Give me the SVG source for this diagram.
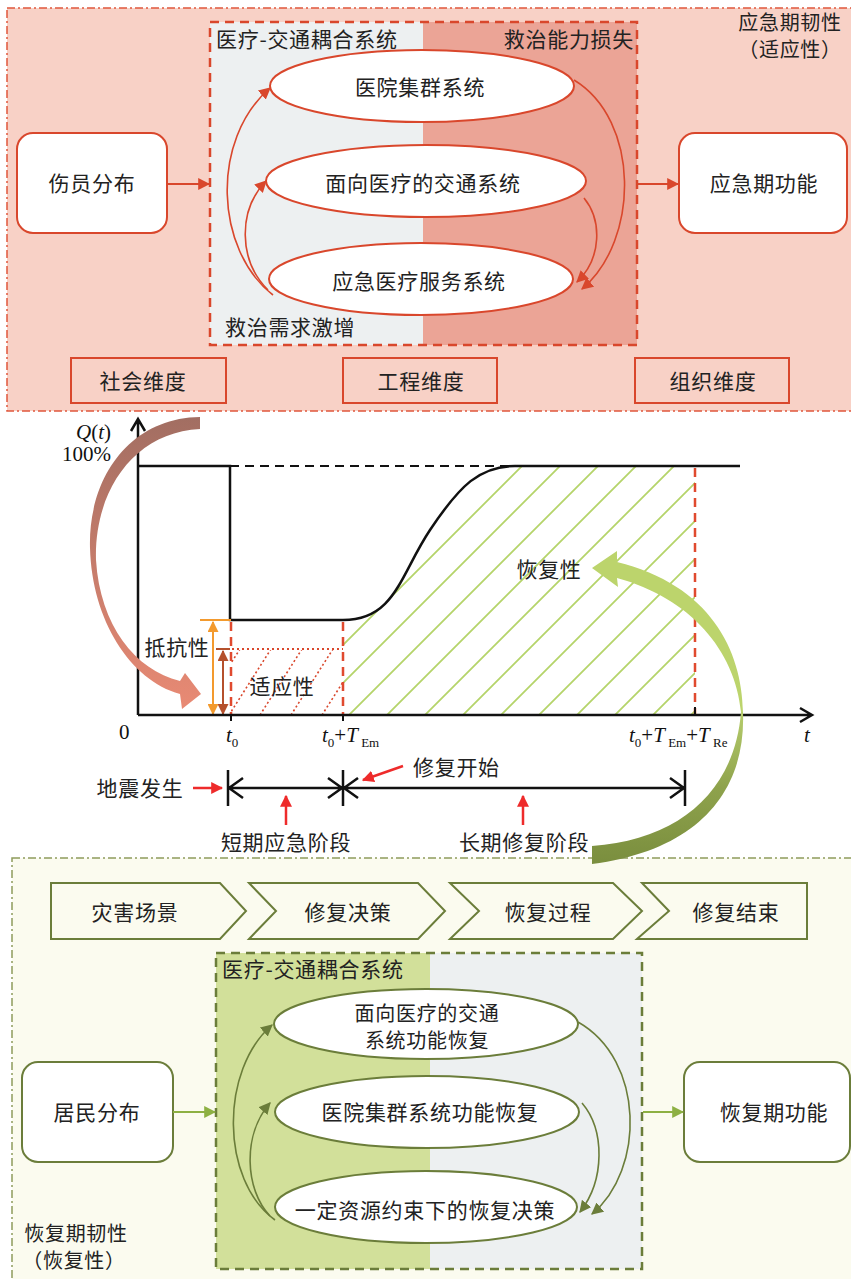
<svg xmlns="http://www.w3.org/2000/svg" width="851" height="1279" viewBox="0 0 851 1279">
<style>
.t{font-family:"Noto Sans CJK SC","Noto Sans",sans-serif;font-size:21px;fill:#222;letter-spacing:0.7px}
.s20{font-size:20px}
.m{text-anchor:middle}
.e{text-anchor:end}
.rs{stroke:#d9472c;stroke-width:2}
.gs{stroke:#6b7d3a;stroke-width:2}
.wf{fill:#fff}
.nf{fill:none}
.math{font-family:"Liberation Serif",serif;font-size:21px;fill:#111}
.it{font-style:italic}
.sub{font-size:13px;font-style:normal}
</style>
<defs>
<marker id="arR" viewBox="0 0 10 10" refX="9" refY="5" markerWidth="12" markerHeight="12" orient="auto" markerUnits="userSpaceOnUse"><path d="M0,0 L10,5 L0,10 Z" fill="#d9472c"/></marker>
<marker id="ag" viewBox="0 0 10 10" refX="9" refY="5" markerWidth="12" markerHeight="12" orient="auto" markerUnits="userSpaceOnUse"><path d="M0,0 L10,5 L0,10 Z" fill="#6b7d3a"/></marker>
<marker id="agl" viewBox="0 0 10 10" refX="9" refY="5" markerWidth="12" markerHeight="12" orient="auto" markerUnits="userSpaceOnUse"><path d="M0,0 L10,5 L0,10 Z" fill="#8db043"/></marker>
<marker id="ared" viewBox="0 0 10 10" refX="9" refY="5" markerWidth="12" markerHeight="12" orient="auto" markerUnits="userSpaceOnUse"><path d="M0,0 L10,5 L0,10 Z" fill="#ee2b2b"/></marker>
<marker id="aor" viewBox="0 0 10 10" refX="9" refY="5" markerWidth="11" markerHeight="11" orient="auto-start-reverse" markerUnits="userSpaceOnUse"><path d="M0,0 L10,5 L0,10 Z" fill="#f39a2e"/></marker>
<marker id="abr" viewBox="0 0 10 10" refX="9" refY="5" markerWidth="11" markerHeight="11" orient="auto-start-reverse" markerUnits="userSpaceOnUse"><path d="M0,0 L10,5 L0,10 Z" fill="#b5502c"/></marker>
<linearGradient id="gBrown" gradientUnits="userSpaceOnUse" x1="0" y1="417" x2="0" y2="710">
<stop offset="0" stop-color="#a26e62"/><stop offset="1" stop-color="#e98a74"/></linearGradient>
<linearGradient id="gOlive" gradientUnits="userSpaceOnUse" x1="0" y1="712" x2="0" y2="864">
<stop offset="0" stop-color="#b6cd6c"/><stop offset="0.5" stop-color="#8ea24c"/><stop offset="1" stop-color="#7a8e3e"/></linearGradient>
<clipPath id="clipG"><path d="M343,715 L343,620 C395,620 400,575 430,530 S480,466 515,466 L695,466 L695,715 Z"/></clipPath>
<clipPath id="clipO"><rect x="231" y="650" width="112" height="65"/></clipPath>
<pattern id="hatchG" patternUnits="userSpaceOnUse" width="38" height="38">
<path d="M0,38 L38,0 M-5,5 L5,-5 M33,43 L43,33" stroke="#b5d46a" stroke-width="1.8"/></pattern>
</defs>

<!-- top panel -->
<g id="panel-emergency">
<rect x="7" y="8" width="850" height="403" fill="#f8d1c6" stroke="#e0573c" stroke-width="1.5" stroke-dasharray="8,3,2,3"/>
<rect x="210" y="22" width="213" height="323" fill="#edf0f1"/>
<rect x="423" y="22" width="214" height="323" fill="#eba496"/>
<rect x="210" y="22" width="427" height="323" fill="none" stroke="#d9472c" stroke-width="2.5" stroke-dasharray="9,6"/>
<text class="t" x="216" y="47">医疗-交通耦合系统</text>
<text class="t e" x="634" y="47">救治能力损失</text>
<text class="t" x="225" y="335">救治需求激增</text>
<text class="t s20 m" x="790" y="30">应急期韧性</text>
<text class="t s20 m" x="790" y="57">（适应性）</text>
</g>

<g id="node-hospital"><ellipse cx="422" cy="86" rx="152" ry="36" class="rs wf"/><text class="t m" x="420" y="95">医院集群系统</text></g>
<g id="node-traffic"><ellipse cx="426" cy="181" rx="160" ry="36" class="rs wf"/><text class="t m" x="423" y="191">面向医疗的交通系统</text></g>
<g id="node-ems"><ellipse cx="421" cy="279" rx="152" ry="36" class="rs wf"/><text class="t m" x="419" y="289">应急医疗服务系统</text></g>
<g id="node-casualty"><rect x="17" y="133" width="150" height="100" rx="16" class="rs wf"/><text class="t m" x="92" y="191">伤员分布</text></g>
<g id="node-emfunc"><rect x="679" y="133" width="168" height="100" rx="16" class="rs wf"/><text class="t m" x="764" y="191">应急期功能</text></g>
<g id="node-social"><rect x="71" y="358" width="155" height="45" class="rs nf"/><text class="t m" x="143" y="389">社会维度</text></g>
<g id="node-eng"><rect x="343" y="358" width="154" height="45" class="rs nf"/><text class="t m" x="421" y="389">工程维度</text></g>
<g id="node-org"><rect x="635" y="358" width="154" height="45" class="rs nf"/><text class="t m" x="713" y="389">组织维度</text></g>

<!-- bottom panel -->
<g id="panel-recovery">
<rect x="12" y="858" width="850" height="440" fill="#fbfbef" stroke="#8f9c5c" stroke-width="1.5" stroke-dasharray="8,3,2,3"/>
<rect x="216" y="953" width="214" height="316" fill="#d2e09a"/>
<rect x="430" y="953" width="212" height="316" fill="#edf0f1"/>
<rect x="216" y="953" width="426" height="316" fill="none" stroke="#6b7d3a" stroke-width="2.5" stroke-dasharray="9,6"/>
<text class="t" x="222" y="977">医疗-交通耦合系统</text>
<text class="t s20 m" x="76" y="1241">恢复期韧性</text>
<text class="t s20 m" x="74" y="1268">（恢复性）</text>
</g>
<g id="step-1"><path d="M51,883 L220,883 L246,911 L220,939 L51,939 Z" fill="#fbfbef" class="gs"/><text class="t m" x="135" y="920">灾害场景</text></g>
<g id="step-2"><path d="M249,883 L418,883 L445,911 L418,939 L249,939 L276,911 Z" fill="#fbfbef" class="gs"/><text class="t m" x="348" y="920">修复决策</text></g>
<g id="step-3"><path d="M450,883 L613,883 L642,911 L613,939 L450,939 L479,911 Z" fill="#fbfbef" class="gs"/><text class="t m" x="548" y="920">恢复过程</text></g>
<g id="step-4"><path d="M642,883 L807,883 L807,939 L637,939 L669,911 Z" fill="#fbfbef" class="gs"/><text class="t m" x="736" y="920">修复结束</text></g>

<g id="node-r-traffic"><ellipse cx="426" cy="1024" rx="152" ry="35" class="gs wf"/><text class="t s20 m" x="427" y="1021">面向医疗的交通</text><text class="t s20 m" x="427" y="1048">系统功能恢复</text></g>
<g id="node-r-hospital"><ellipse cx="427" cy="1112" rx="152" ry="36" class="gs wf"/><text class="t m" x="430" y="1120">医院集群系统功能恢复</text></g>
<g id="node-r-decision"><ellipse cx="426" cy="1207" rx="151" ry="36" class="gs wf"/><text class="t m" x="425" y="1218">一定资源约束下的恢复决策</text></g>
<g id="node-resident"><rect x="22" y="1062" width="151" height="100" rx="16" class="gs wf"/><text class="t m" x="97" y="1120">居民分布</text></g>
<g id="node-recfunc"><rect x="684" y="1062" width="166" height="100" rx="16" class="gs wf"/><text class="t m" x="774" y="1120">恢复期功能</text></g>

<!-- chart -->
<g id="chart">
<rect x="343" y="466" width="352" height="249" fill="url(#hatchG)" clip-path="url(#clipG)"/>
<g clip-path="url(#clipO)" stroke="#d9472c" stroke-width="1.6" stroke-dasharray="2,2.5">
<line x1="198" y1="715" x2="240" y2="649"/><line x1="229" y1="715" x2="271" y2="649"/><line x1="260" y1="715" x2="302" y2="649"/><line x1="291" y1="715" x2="333" y2="649"/><line x1="322" y1="715" x2="364" y2="649"/>
</g>
<line x1="217" y1="649" x2="343" y2="649" stroke="#d9472c" stroke-width="1.8" stroke-dasharray="2,3"/>
<line x1="230" y1="466" x2="540" y2="466" stroke="#111" stroke-width="2" stroke-dasharray="9,6"/>
<path d="M138,466 L230,466 L230,620 L343,620 C395,620 400,575 430,530 S480,466 515,466 L740,466" fill="none" stroke="#111" stroke-width="2.5"/>
<g stroke="#e04a2f" stroke-width="2.5" stroke-dasharray="9,6">
<line x1="231" y1="622" x2="231" y2="715"/><line x1="343" y1="622" x2="343" y2="715"/><line x1="695" y1="468" x2="695" y2="715"/>
</g>
<line x1="200" y1="620" x2="231" y2="620" stroke="#f39a2e" stroke-width="2"/>
<line x1="213" y1="622" x2="213" y2="714" stroke="#f39a2e" stroke-width="2" marker-start="url(#aor)" marker-end="url(#aor)"/>
<line x1="216" y1="649" x2="230" y2="649" stroke="#b5502c" stroke-width="2"/>
<line x1="223" y1="651" x2="223" y2="714" stroke="#b5502c" stroke-width="2" marker-start="url(#abr)" marker-end="url(#abr)"/>
<path d="M138,715 L138,419 M131,431 L138,419 L145,431 M138,715 L812,715 M800,708 L812,715 L800,722" fill="none" stroke="#111" stroke-width="2.5"/>
<line x1="231" y1="715" x2="231" y2="721" stroke="#111" stroke-width="2"/>
<line x1="343" y1="715" x2="343" y2="721" stroke="#111" stroke-width="2"/>
<line x1="695" y1="707" x2="695" y2="715" stroke="#111" stroke-width="2"/>
<text class="math" x="119" y="739">0</text>
<text class="math" x="226" y="742"><tspan class="it">t</tspan><tspan class="sub" dy="5">0</tspan></text>
<text class="math" x="322" y="742"><tspan class="it">t</tspan><tspan class="sub" dy="5">0</tspan><tspan dy="-5">+</tspan><tspan class="it">T</tspan><tspan class="sub" dy="5"> Em</tspan></text>
<text class="math" x="629" y="742"><tspan class="it">t</tspan><tspan class="sub" dy="5">0</tspan><tspan dy="-5">+</tspan><tspan class="it">T</tspan><tspan class="sub" dy="5"> Em</tspan><tspan dy="-5">+</tspan><tspan class="it">T</tspan><tspan class="sub" dy="5"> Re</tspan></text>
<text class="math it" x="804" y="742">t</text>
<text class="t m" x="177" y="655">抵抗性</text>
<text class="t m" x="282" y="694">适应性</text>
<text class="t m" x="549" y="577">恢复性</text>
</g>

<!-- timeline -->
<g id="timeline">
<path d="M228,770 L228,806 M343,770 L343,806 M685,770 L685,806 M228,788 L685,788 M243,778 L229,788 L243,798 M328,778 L342,788 L328,798 M358,778 L344,788 L358,798 M670,778 L684,788 L670,798" fill="none" stroke="#111" stroke-width="2.5"/>
<text class="t m" x="140" y="796">地震发生</text>
<text class="t" x="413" y="775">修复开始</text>
<text class="t m" x="286" y="850">短期应急阶段</text>
<text class="t m" x="524" y="850">长期修复阶段</text>
</g>

<!-- connectors -->
<g id="connectors">
<line x1="167" y1="184" x2="209" y2="184" stroke="#d9472c" stroke-width="2" marker-end="url(#arR)"/>
<line x1="638" y1="184" x2="678" y2="184" stroke="#d9472c" stroke-width="2" marker-end="url(#arR)"/>
<path d="M273,295 C215,250 210,140 270,88" fill="none" stroke="#d9472c" stroke-width="1.6" marker-end="url(#arR)"/>
<path d="M268,290 C238,260 238,210 266,181" fill="none" stroke="#d9472c" stroke-width="1.6" marker-end="url(#arR)"/>
<path d="M574,80 C640,120 640,240 582,289" fill="none" stroke="#d9472c" stroke-width="1.6" marker-end="url(#arR)"/>
<path d="M584,198 C602,220 602,258 577,282" fill="none" stroke="#d9472c" stroke-width="1.6" marker-end="url(#arR)"/>

<line x1="173" y1="1112" x2="215" y2="1112" stroke="#8db043" stroke-width="2" marker-end="url(#agl)"/>
<line x1="643" y1="1112" x2="683" y2="1112" stroke="#8db043" stroke-width="2" marker-end="url(#agl)"/>
<path d="M275,1220 C220,1180 220,1070 272,1025" fill="none" stroke="#6b7d3a" stroke-width="1.6" marker-end="url(#ag)"/>
<path d="M270,1216 C245,1190 242,1135 270,1103" fill="none" stroke="#6b7d3a" stroke-width="1.6" marker-end="url(#ag)"/>
<path d="M578,1022 C645,1060 645,1170 592,1214" fill="none" stroke="#6b7d3a" stroke-width="1.6" marker-end="url(#ag)"/>
<path d="M582,1103 C605,1130 605,1180 580,1212" fill="none" stroke="#6b7d3a" stroke-width="1.6" marker-end="url(#ag)"/>

<line x1="193" y1="788" x2="222" y2="788" stroke="#ee2b2b" stroke-width="2.5" marker-end="url(#ared)"/>
<line x1="403" y1="766" x2="363" y2="780" stroke="#ee2b2b" stroke-width="2.5" marker-end="url(#ared)"/>
<line x1="286" y1="825" x2="286" y2="796" stroke="#ee2b2b" stroke-width="2.5" marker-end="url(#ared)"/>
<line x1="523" y1="825" x2="523" y2="796" stroke="#ee2b2b" stroke-width="2.5" marker-end="url(#ared)"/>

<path d="M200,417 C128,418 88,480 90,548 C92,620 130,680 180,694 L182,709 L201,694 L185,673 L180,681 C135,670 100,625 96,560 C94,490 135,432 200,429 Z" fill="url(#gBrown)"/>
<path d="M743,712 C742,650 710,585 617,562 L617,551 L592,568 L618,587 L617,578 C690,598 735,650 741,712 Z" fill="#bcd46c"/>
<path d="M743,712 C746,790 700,850 592,864 L592,846 C680,840 735,790 741,712 Z" fill="url(#gOlive)"/>
</g>
<g id="axis-labels">
<text class="math" x="111" y="439" text-anchor="end"><tspan class="it">Q</tspan>(<tspan class="it">t</tspan>)</text>
<text class="math" x="111" y="461" text-anchor="end">100%</text>
</g>
</svg>
